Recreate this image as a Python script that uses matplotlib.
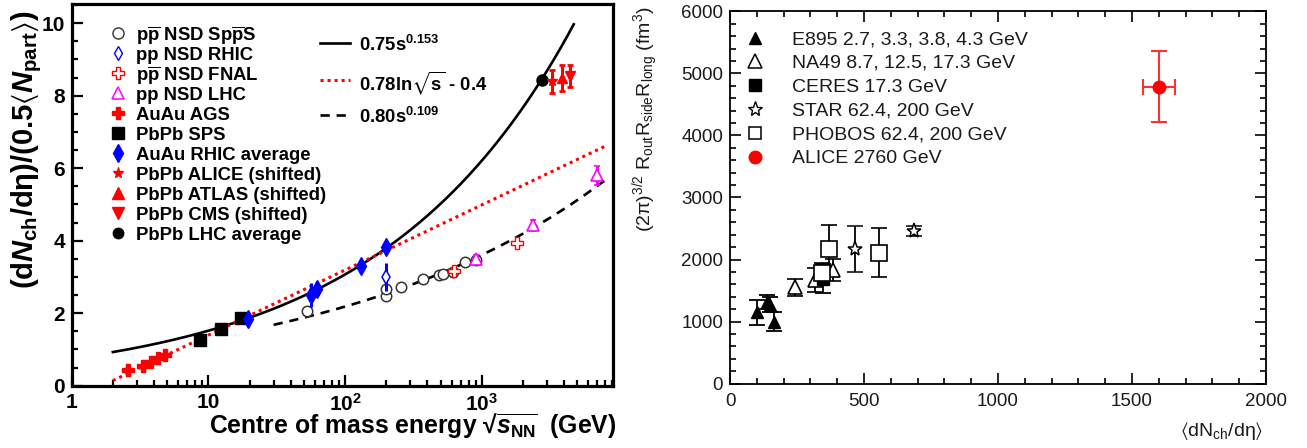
import numpy as np
import matplotlib
matplotlib.use("Agg")
import matplotlib.pyplot as plt
from matplotlib.lines import Line2D
from matplotlib.ticker import MultipleLocator

plt.rcParams['font.family'] = ['Liberation Sans', 'DejaVu Sans']
plt.rcParams['mathtext.fontset'] = 'custom'
plt.rcParams['mathtext.rm'] = 'Liberation Sans'
plt.rcParams['mathtext.it'] = 'Liberation Sans:italic:bold'
plt.rcParams['mathtext.bf'] = 'Liberation Sans:bold'
plt.rcParams['mathtext.fallback'] = 'stixsans'

# ---------------- left panel: charged-particle density per participant pair ----------------
spps_e = [53, 200, 200, 255, 370, 487, 524, 610, 755, 900]
spps_y = [2.05, 2.48, 2.66, 2.72, 2.94, 3.06, 3.09, 3.15, 3.42, 3.46]

rhic_pp_e = [200]
rhic_pp_y = [3.0]
rhic_pp_err = [0.38]

fnal_e = [630, 1800]
fnal_y = [3.17, 3.95]
fnal_err = [0.10, 0.12]

lhc_pp_e = [900, 2360, 7000]
lhc_pp_y = [3.50, 4.42, 5.80]
lhc_pp_err = [0.10, 0.15, 0.25]

ags_e = [2.6, 3.3, 3.8, 4.3, 4.8]
ags_y = [0.42, 0.53, 0.66, 0.76, 0.85]

sps_e = [8.7, 12.3, 17.3]
sps_y = [1.27, 1.56, 1.88]

rhic_aa_e = [19.6, 56, 62.4, 130, 200]
rhic_aa_y = [1.85, 2.50, 2.67, 3.31, 3.83]
rhic_aa_err = [0.05, 0.32, 0.12, 0.05, 0.05]

alice_e = [3250]
alice_y = [8.40]
alice_err = [0.32]

atlas_e = [3850]
atlas_y = [8.48]
atlas_err = [0.36]

cms_e = [4430]
cms_y = [8.55]
cms_err = [0.30]

lhc_avg_e = [2760]
lhc_avg_y = [8.44]
lhc_avg_err = [0.10]

# fit functions of s = sqrt(s_NN)^2
pow_aa_coef, pow_aa_exp, pow_aa_range = 0.75, 0.153, (2, 4700)
log_coef, log_off, log_range = 0.78, -0.4, (2, 8000)
pow_pp_coef, pow_pp_exp, pow_pp_range = 0.80, 0.109, (30, 8400)

left_xticks = [1, 10, 100, 1000]
left_xticklabels = ['1', '10', '10$^{\\mathregular{2}}$', '10$^{\\mathregular{3}}$']
left_yticks = [0, 2, 4, 6, 8, 10]

# ---------------- right panel: HBT volume vs multiplicity ----------------
e895_x = [102, 137, 150, 164]
e895_y = [1150, 1310, 1270, 1000]
e895_err = [200, 110, 120, 150]

na49_x = [243, 317, 383]
na49_y = [1550, 1670, 1830]
na49_err = [140, 190, 180]

ceres_x = [348]
ceres_y = [1690]
ceres_err = [230]

star_x = [466, 687]
star_y = [2165, 2465]
star_err = [370, 80]

phobos_x = [342, 370, 557]
phobos_y = [1790, 2165, 2110]
phobos_err = [150, 390, 390]

alice_mult = [1600]
alice_mult_err = [60]
alice_vol = [4790]
alice_vol_err = [580]

W, H = 1307, 448
fig = plt.figure(figsize=(W / 100, H / 100), dpi=100)


def fx(x):
    return x / W


def fy(y):
    return 1 - y / H


RED, BLUE, MAG = '#ff0000', '#0000ff', '#ff00ff'

# ================= left axes =================
axL = fig.add_axes([fx(71.7), fy(385.7), (613.3 - 71.7) / W, (385.7 - 4) / H])
axL.set_xscale('log')
axL.set_xlim(1, 9150)
axL.set_ylim(0, 10.53)
for sp in axL.spines.values():
    sp.set_linewidth(2.3)
axL.set_xticks(left_xticks, left_xticklabels, fontweight='bold', fontsize=15)
axL.set_xticks([m * d for d in (1, 10, 100, 1000) for m in range(2, 10) if m * d < 9150], minor=True)
axL.set_yticks(left_yticks, [str(t) for t in left_yticks], fontweight='bold', fontsize=15)
axL.yaxis.set_minor_locator(MultipleLocator(0.5))
axL.tick_params(which='both', direction='in', top=False, right=False, width=1.6)
axL.tick_params(which='major', length=8)
axL.tick_params(which='minor', length=4.5)
axL.tick_params(axis='x', pad=5)
axL.tick_params(axis='y', pad=5)

e = np.logspace(np.log10(pow_aa_range[0]), np.log10(pow_aa_range[1]), 400)
axL.plot(e, pow_aa_coef * (e ** 2) ** pow_aa_exp, color='black', lw=1.9, zorder=2)
e = np.logspace(np.log10(log_range[0]), np.log10(log_range[1]), 400)
axL.plot(e, log_coef * np.log(e) + log_off, color=RED, lw=2.2, ls=(0, (1.0, 1.3)), zorder=2)
e = np.logspace(np.log10(pow_pp_range[0]), np.log10(pow_pp_range[1]), 400)
axL.plot(e, pow_pp_coef * (e ** 2) ** pow_pp_exp, color='black', lw=1.9, ls=(0, (3.5, 2.6)), zorder=2)

axL.plot(spps_e, spps_y, 'o', ms=7.5, mfc='white', mec='#333333', mew=1.1, zorder=3)
axL.errorbar(rhic_pp_e, rhic_pp_y, yerr=rhic_pp_err, fmt='d', ms=7.5, mfc='white', mec=BLUE,
             mew=1.1, ecolor=BLUE, elinewidth=2.2, capsize=0, zorder=4)
axL.errorbar(fnal_e, fnal_y, yerr=fnal_err, fmt='P', ms=9, mfc='white', mec=RED,
             mew=1.0, ecolor=RED, elinewidth=2, capsize=0, zorder=4)
axL.errorbar(lhc_pp_e, lhc_pp_y, yerr=lhc_pp_err, fmt='^', ms=8, mfc='white', mec=MAG,
             mew=1.2, ecolor=MAG, elinewidth=2.2, capsize=2.5, zorder=4)
axL.plot(ags_e, ags_y, 'P', ms=8.5, color=RED, zorder=4)
axL.plot(sps_e, sps_y, 's', ms=9, color='black', zorder=4)
axL.errorbar(rhic_aa_e, rhic_aa_y, yerr=rhic_aa_err, fmt='d', ms=9, color=BLUE,
             ecolor=BLUE, elinewidth=2.2, capsize=0, zorder=4)
axL.errorbar(lhc_avg_e, lhc_avg_y, yerr=lhc_avg_err, fmt='o', ms=8, color='black',
             elinewidth=2, capsize=0, zorder=4)
axL.errorbar(alice_e, alice_y, yerr=alice_err, fmt='*', ms=7, color=RED,
             elinewidth=2.2, capsize=2.5, capthick=2, zorder=4)
axL.errorbar(atlas_e, atlas_y, yerr=atlas_err, fmt='^', ms=7, color=RED,
             elinewidth=2.2, capsize=2.5, capthick=2, zorder=4)
axL.errorbar(cms_e, cms_y, yerr=cms_err, fmt='v', ms=7, color=RED,
             elinewidth=2.2, capsize=2.5, capthick=2, zorder=4)

# legend of the data sets
leg_left = [
    ('p$\\overline{\\mathregular{p}}$ NSD Sp$\\overline{\\mathregular{p}}$S',
     dict(marker='o', ms=8, mfc='white', mec='#333333', mew=1.0)),
    ('pp NSD RHIC', dict(marker='d', ms=7.5, mfc='white', mec=BLUE, mew=1.0)),
    ('p$\\overline{\\mathregular{p}}$ NSD FNAL', dict(marker='P', ms=9, mfc='white', mec=RED, mew=1.0)),
    ('pp NSD LHC', dict(marker='^', ms=8, mfc='white', mec=MAG, mew=1.1)),
    ('AuAu AGS', dict(marker='P', ms=9, color=RED)),
    ('PbPb SPS', dict(marker='s', ms=8, color='black')),
    ('AuAu RHIC average', dict(marker='d', ms=9, color=BLUE)),
    ('PbPb ALICE (shifted)', dict(marker='*', ms=8, color=RED)),
    ('PbPb ATLAS (shifted)', dict(marker='^', ms=8, color=RED)),
    ('PbPb CMS (shifted)', dict(marker='v', ms=8, color=RED)),
    ('PbPb LHC average', dict(marker='o', ms=7.5, color='black')),
]
for i, (lab, st) in enumerate(leg_left):
    yy = 33 + 20 * i
    fig.add_artist(Line2D([fx(117.5)], [fy(yy)], transform=fig.transFigure, ls='none', **st))
    fig.text(fx(136.5), fy(yy), lab, fontsize=13.3, fontweight='bold', ha='left', va='center_baseline')

# legend of the fit curves
leg_fits = [
    ('0.75s$^{\\mathregular{0.153}}$', dict(color='black', lw=1.9)),
    ('0.78ln$\\mathregular{\\sqrt{s}}$ - 0.4', dict(color=RED, lw=2.2, ls=(0, (1.0, 1.3)))),
    ('0.80s$^{\\mathregular{0.109}}$', dict(color='black', lw=1.9, ls=(0, (3.5, 2.6)))),
]
for (lab, st), yy in zip(leg_fits, [43, 80, 115]):
    fig.add_artist(Line2D([fx(320), fx(350)], [fy(yy), fy(yy)], transform=fig.transFigure, **st))
    fig.text(fx(359), fy(yy), lab, fontsize=13.3, fontweight='bold', ha='left', va='center_baseline')

fig.text(fx(616), fy(434),
         'Centre of mass energy \u221a$\\overline{\\mathit{s}_{\\mathregular{NN}}}$  (GeV)',
         fontsize=17.8, fontweight='bold', ha='right', va='baseline')
fig.text(fx(33), fy(10),
         '(d$N_{\\mathregular{ch}}$/d\u03b7)/(0.5$\\langle N_{\\mathregular{part}}\\rangle$)',
         fontsize=21, fontweight='bold', rotation=90, rotation_mode='anchor',
         ha='right', va='baseline')

# ================= right axes =================
axR = fig.add_axes([fx(730), fy(383.5), (1266 - 730) / W, (383.5 - 11.5) / H])
axR.set_xlim(0, 2000)
axR.set_ylim(0, 6000)
for sp in axR.spines.values():
    sp.set_linewidth(1.3)
axR.xaxis.set_major_locator(MultipleLocator(500))
axR.xaxis.set_minor_locator(MultipleLocator(100))
axR.yaxis.set_major_locator(MultipleLocator(1000))
axR.yaxis.set_minor_locator(MultipleLocator(200))
axR.tick_params(which='both', direction='in', top=True, right=True, width=1.2,
                labelsize=13.5, labelcolor='#1a1a1a')
axR.tick_params(which='major', length=8)
axR.tick_params(which='minor', length=4)
axR.tick_params(axis='x', pad=7)
axR.tick_params(axis='y', pad=5)

eb = dict(ecolor='black', elinewidth=1.3, capsize=6, capthick=1.3, zorder=3)
axR.errorbar(e895_x, e895_y, yerr=e895_err, fmt='^', ms=9, color='black', **eb)
axR.errorbar(na49_x, na49_y, yerr=na49_err, fmt='^', ms=10, mfc='white', mec='black', mew=1.2, **eb)
axR.errorbar(ceres_x, ceres_y, yerr=ceres_err, fmt='s', ms=8, color='black', **eb)
axR.errorbar(star_x, star_y, yerr=star_err, fmt='*', ms=11, mfc='white', mec='black', mew=1.1, **eb)
axR.errorbar(phobos_x, phobos_y, yerr=phobos_err, fmt='s', ms=11, mfc='white', mec='black', mew=1.2, **eb)
axR.errorbar(alice_mult, alice_vol, xerr=alice_mult_err, yerr=alice_vol_err, fmt='o', ms=9,
             color='#ff0000', ecolor='#ff3030', elinewidth=1.5, capsize=6, capthick=1.5, zorder=4)

leg_right = [
    ('E895 2.7, 3.3, 3.8, 4.3 GeV', dict(marker='^', ms=9, color='black')),
    ('NA49 8.7, 12.5, 17.3 GeV', dict(marker='^', ms=10, mfc='white', mec='black', mew=1.1)),
    ('CERES 17.3 GeV', dict(marker='s', ms=8, color='black')),
    ('STAR 62.4, 200 GeV', dict(marker='*', ms=11, mfc='white', mec='black', mew=1.0)),
    ('PHOBOS 62.4, 200 GeV', dict(marker='s', ms=9, mfc='white', mec='black', mew=1.1)),
    ('ALICE 2760 GeV', dict(marker='o', ms=9, color='#ff0000')),
]
for i, (lab, st) in enumerate(leg_right):
    yy = 37.7 + 23.8 * i
    fig.add_artist(Line2D([fx(755)], [fy(yy)], transform=fig.transFigure, ls='none', **st))
    fig.text(fx(792), fy(yy), lab, fontsize=14, color='#1a1a1a', ha='left', va='center_baseline')

fig.text(fx(1263), fy(436), '$\\langle$dN$_{\\mathregular{ch}}$/d\u03b7$\\rangle$',
         fontsize=14, color='#1a1a1a', ha='right', va='baseline')
fig.text(fx(651), fy(232),
         '(2\u03c0)$^{\\mathregular{3/2}}$ R$_{\\mathregular{out}}$R$_{\\mathregular{side}}$'
         'R$_{\\mathregular{long}}$ (fm$^{\\mathregular{3}}$)',
         fontsize=14, color='#1a1a1a', rotation=90, rotation_mode='anchor',
         ha='left', va='baseline')

fig.savefig('out.png', dpi=100, facecolor='white')
